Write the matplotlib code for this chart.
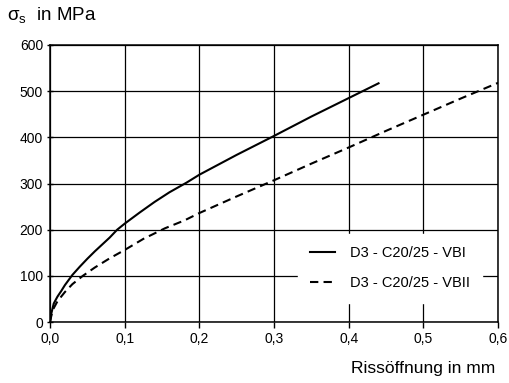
import matplotlib
matplotlib.use("Agg")
import matplotlib.pyplot as plt

plt.rcParams['font.family'] = ['Liberation Sans', 'DejaVu Sans']
plt.rcParams['mathtext.fontset'] = 'custom'
plt.rcParams['mathtext.rm'] = 'Liberation Sans'

# values (crack opening in mm, steel stress in MPa)
vbi_w = [0.0, 0.002, 0.005, 0.01, 0.015, 0.02, 0.03, 0.04, 0.05, 0.06, 0.07, 0.08,
         0.09, 0.1, 0.12, 0.14, 0.16, 0.183, 0.2, 0.25, 0.3, 0.35, 0.4, 0.44]
vbi_s = [0, 20, 40, 55, 67, 80, 102, 120, 137, 153, 168, 183,
         200, 213, 237, 260, 281, 302, 319, 362, 403, 445, 485, 517]

vbii_w = [0.0, 0.002, 0.005, 0.01, 0.015, 0.02, 0.03, 0.044, 0.06, 0.08, 0.1, 0.125,
          0.154, 0.18, 0.2, 0.25, 0.3, 0.35, 0.4, 0.45, 0.5, 0.55, 0.6]
vbii_s = [0, 15, 30, 45, 55, 65, 82, 100, 118, 138, 156, 180,
          203, 220, 236, 272, 307, 343, 378, 414, 449, 484, 518]

labels = ["D3 - C20/25 - VBI", "D3 - C20/25 - VBII"]
xticks = [0.0, 0.1, 0.2, 0.3, 0.4, 0.5, 0.6]
xticklabels = ["0,0", "0,1", "0,2", "0,3", "0,4", "0,5", "0,6"]
yticks = [0, 100, 200, 300, 400, 500, 600]

fig = plt.figure(figsize=(5.09, 3.83), dpi=100)
ax = fig.add_axes([50 / 509, 1 - 322 / 383, 448 / 509, 277 / 383])

ax.plot(vbi_w, vbi_s, color="black", lw=1.5, label=labels[0])
ax.plot(vbii_w, vbii_s, color="black", lw=1.5, dashes=(4, 2.5), label=labels[1])

ax.set_xlim(0, 0.6)
ax.set_ylim(0, 600)
ax.set_xticks(xticks)
ax.set_xticklabels(xticklabels)
ax.set_yticks(yticks)
ax.tick_params(labelsize=10, length=4, width=1, colors="black")
ax.tick_params(axis="y", direction="inout", pad=3)
ax.tick_params(axis="x", direction="out", pad=3)
ax.grid(True, color="black", lw=0.9)
ax.set_axisbelow(True)
for sp in ax.spines.values():
    sp.set_linewidth(1.1)
    sp.set_color("black")

leg = ax.legend(loc="upper left", bbox_to_anchor=((298 - 50) / 448, (322 - 234) / 277),
                borderaxespad=0, frameon=True, fontsize=10.5, handlelength=1.7,
                handletextpad=1.0, labelspacing=1.1, borderpad=0.85, fancybox=False)
leg.get_frame().set_edgecolor("white")
leg.get_frame().set_facecolor("white")
leg.get_frame().set_alpha(1)

fig.text(7 / 509, 1 - 16 / 383, "σ$_\\mathrm{s}$  in MPa", fontsize=13.5,
         va="center", ha="left")
fig.text(495 / 509, 1 - 368 / 383, "Rissöffnung in mm", fontsize=12.5,
         va="center", ha="right")

fig.savefig("out.png", dpi=100)
